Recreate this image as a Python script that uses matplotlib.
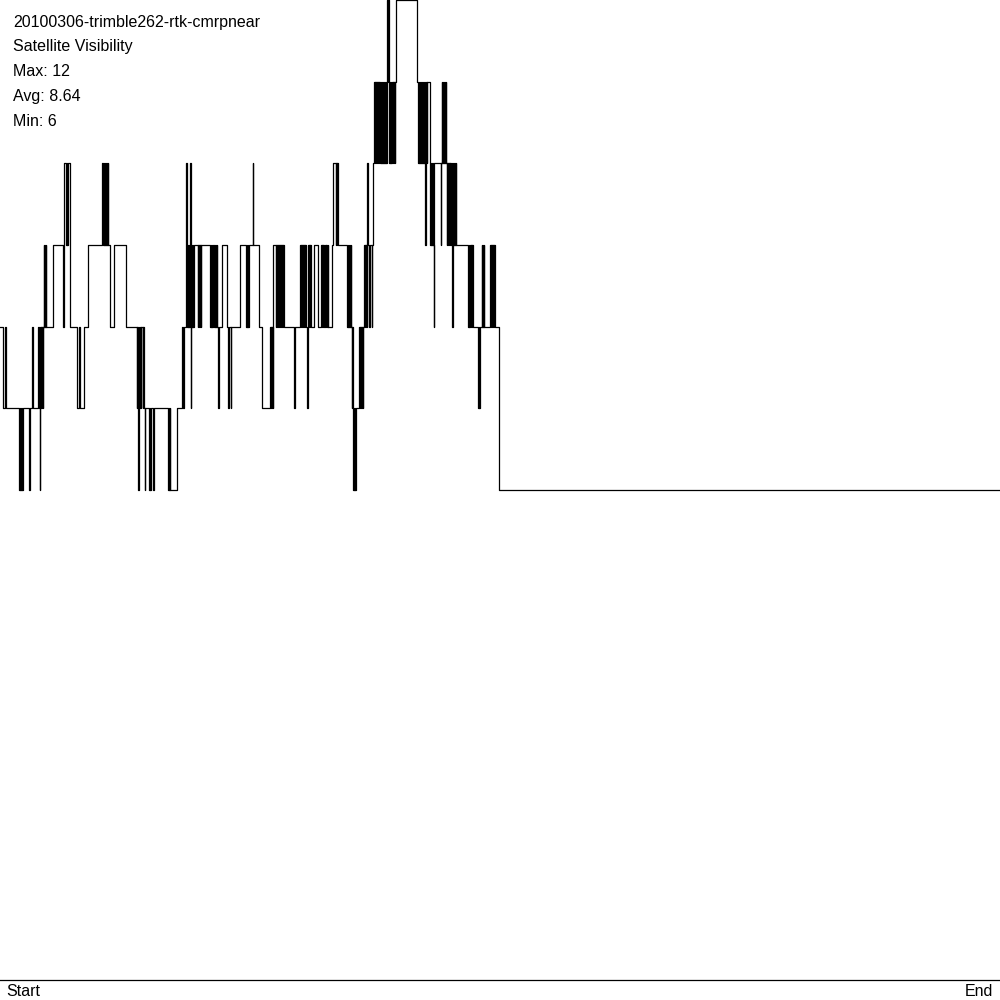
import matplotlib
matplotlib.use("Agg")
import matplotlib.pyplot as plt

# ---- data: (time, satellites visible from that time on) ----
seg_1 = [(0, 8), (2.7, 7), (4.7, 8), (5.5, 7),
         (19.3, 6), (19.8, 7), (20.3, 6), (20.8, 7), (21.3, 6), (21.8, 7), (22.3, 6), (22.8, 7), (23.1, 6), (23.4, 7),
         (29.3, 6), (30.1, 7), (31.8, 8), (32.6, 7),
         (38.0, 8), (38.5, 7), (39.0, 8), (39.4, 7), (39.7, 6), (40.0, 7), (40.4, 8), (40.9, 7), (41.4, 8), (41.9, 7),
         (42.4, 8), (42.9, 7), (43.2, 8),
         (43.5, 9), (44.0, 8), (44.5, 9), (45.0, 8), (45.5, 9), (46.0, 8),
         (53.0, 9), (63.0, 8), (63.8, 10), (66.3, 9), (66.8, 10), (67.3, 9), (67.8, 10), (70.3, 8),
         (77.3, 7), (79.3, 8), (80.0, 7), (84.0, 8), (88.3, 9)]

seg_2 = [(102.3, 10), (103.0, 9), (103.5, 10), (104.3, 9), (104.8, 10), (105.3, 9), (105.8, 10), (106.3, 9),
         (106.8, 10), (107.3, 9), (107.8, 10), (108.3, 9),
         (110.0, 8), (114.3, 9), (126.3, 8),
         (136.7, 7), (137.2, 8), (137.7, 7), (138.2, 6), (138.5, 7), (138.9, 8), (139.4, 7), (139.8, 8),
         (140.6, 7), (141.0, 8), (143.0, 7), (143.4, 8), (144.0, 7), (145.0, 6), (145.3, 7),
         (149.3, 6), (149.8, 7), (150.3, 6), (150.7, 7), (153.3, 6), (153.6, 7),
         (168.3, 6), (168.8, 7), (169.3, 6), (169.8, 7), (170.3, 6), (176.7, 7), (181.7, 8)]

seg_3 = [(183.3, 7), (184.2, 8),
         (185.7, 9), (186.0, 10), (187.0, 9), (187.4, 8), (187.9, 9), (188.4, 8), (188.9, 9), (189.4, 8),
         (190.0, 10), (190.8, 8), (191.0, 7), (191.3, 8), (191.7, 9), (192.2, 8), (192.7, 9), (193.2, 8), (193.6, 9),
         (197.7, 8), (198.2, 9), (198.7, 8), (199.2, 9), (199.7, 8), (200.2, 9), (200.7, 8), (201.2, 9),
         (210.0, 8), (210.5, 9), (211.0, 8), (211.5, 9), (212.0, 8), (212.5, 9),
         (214.3, 8), (214.8, 9), (215.3, 8), (215.8, 9), (216.3, 8), (216.8, 9), (217.3, 8), (218.3, 7), (218.7, 8),
         (221.7, 9), (226.7, 8), (228.3, 7), (228.6, 8), (231.0, 7), (231.3, 8),
         (240.0, 9), (246.0, 8), (246.6, 9), (247.1, 8), (247.6, 9), (248.1, 8), (248.5, 9),
         (252.5, 10), (253.3, 9), (259.3, 8), (261.7, 7)]

seg_4 = [(270.0, 8), (270.5, 7), (271.0, 8), (271.5, 7), (272.0, 8), (272.5, 7), (273.0, 8), (273.3, 9),
         (275.7, 8), (276.2, 9), (276.7, 8), (277.2, 9), (277.7, 8), (278.2, 9), (278.7, 8), (279.2, 9),
         (279.7, 8), (280.2, 9), (280.7, 8), (281.2, 9), (281.7, 8), (282.2, 9), (282.7, 8), (283.2, 9), (283.7, 8),
         (294.3, 7), (295.2, 8),
         (300.0, 9), (300.5, 8), (301.0, 9), (301.5, 8), (302.0, 9), (302.5, 8), (303.0, 9), (303.5, 8),
         (304.0, 9), (304.5, 8), (305.0, 9), (305.5, 8),
         (307.2, 7), (307.9, 8), (308.3, 9), (308.8, 8), (309.3, 9), (309.8, 8), (310.3, 9), (310.8, 8),
         (314.3, 9), (318.3, 8), (321.0, 9), (321.5, 8), (322.0, 9), (322.5, 8), (323.0, 9), (323.5, 8),
         (325.0, 9), (325.5, 8), (326.0, 9), (326.6, 8), (327.7, 9), (328.1, 8), (332.3, 9),
         (333.3, 10), (335.7, 9), (336.2, 10), (336.7, 9), (337.2, 10), (337.7, 9)]

seg_5 = [(347.3, 8), (347.8, 9), (348.3, 8), (348.8, 9), (349.3, 8), (349.8, 9), (350.3, 8), (350.8, 9),
         (351.3, 8), (351.8, 7), (352.3, 8), (352.7, 7), (353.1, 6), (353.5, 7), (354.0, 6), (354.5, 7),
         (355.0, 6), (355.5, 7),
         (359.3, 8), (359.8, 7), (360.3, 8), (360.8, 7), (361.3, 8), (361.8, 7), (362.3, 8), (362.8, 7), (363.3, 8),
         (364.0, 9), (364.5, 8), (365.0, 9), (365.5, 8), (366.0, 9), (366.5, 8), (367.0, 9), (367.3, 10),
         (367.8, 9), (369.3, 8), (369.6, 9), (371.7, 8), (372.0, 9), (372.7, 10), (374.3, 11),
         (374.8, 10), (375.3, 11), (375.8, 10), (376.3, 11), (376.8, 10), (377.3, 11), (377.8, 10), (378.3, 11),
         (378.8, 10), (379.3, 11),
         (380.0, 10), (380.5, 11), (381.0, 10), (381.5, 11), (382.0, 10), (382.5, 11), (383.0, 10), (383.5, 11),
         (384.0, 10), (384.5, 11), (385.0, 10), (385.5, 11), (386.0, 10), (386.5, 11), (387.3, 12), (387.7, 11),
         (388.3, 12), (388.7, 11), (389.3, 10), (389.8, 11), (390.3, 10), (390.8, 11), (391.3, 10), (391.7, 11),
         (392.7, 10), (393.2, 11), (393.7, 10), (394.2, 11), (394.6, 10), (395.0, 11), (395.7, 12), (416.7, 11),
         (418.3, 10), (418.8, 11), (419.3, 10), (419.8, 11), (420.3, 10), (420.8, 11), (421.3, 10), (421.8, 11),
         (422.3, 10), (422.8, 11), (423.3, 10), (423.8, 11), (424.3, 10), (424.8, 11), (425.3, 9), (425.6, 10),
         (426.1, 11), (426.7, 10), (427.3, 11), (430.0, 10)]

seg_6 = [(430.4, 9), (430.9, 10), (431.4, 9), (431.9, 10), (432.4, 9), (432.9, 10), (433.4, 9), (434.0, 8),
         (434.4, 10), (440.7, 9), (441.2, 10), (441.7, 11), (442.2, 10), (442.7, 11), (443.2, 10), (443.7, 11),
         (444.2, 10), (444.7, 11), (445.2, 10), (445.7, 11), (446.2, 10), (446.7, 9), (447.2, 10), (447.7, 9),
         (448.2, 10), (448.7, 9), (449.2, 10), (449.7, 9), (450.2, 10), (450.7, 9), (451.7, 10), (452.3, 8),
         (452.6, 10), (453.0, 9), (453.5, 10), (454.0, 9), (454.5, 10), (455.0, 9), (455.5, 10), (456.0, 9),
         (468.3, 8), (468.8, 9), (469.3, 8), (470.0, 9), (470.5, 8), (471.0, 9), (471.7, 8), (472.3, 9), (472.7, 8),
         (478.3, 7), (478.8, 8), (479.3, 7), (479.8, 8), (481.7, 9), (482.2, 8), (482.7, 9), (483.2, 8),
         (483.6, 9), (484.0, 8),
         (490.0, 9), (490.5, 8), (491.0, 9), (491.5, 8), (492.0, 9), (492.5, 8), (493.0, 9), (493.5, 8),
         (494.0, 9), (494.5, 8), (499.3, 6), (1000, 6)]

title_lines = ["20100306-trimble262-rtk-cmrpnear", "Satellite Visibility",
               "Max: 12", "Avg: 8.64", "Min: 6"]
x_labels = ["Start", "End"]

changes = seg_1 + seg_2 + seg_3 + seg_4 + seg_5 + seg_6
times = [c[0] for c in changes]
sats = [c[1] for c in changes]

plt.rcParams['font.family'] = ['Liberation Sans', 'DejaVu Sans']

fig = plt.figure(figsize=(10, 10), dpi=100)
fig.patch.set_facecolor('white')
ax = fig.add_axes([0, 0.02, 1, 0.98])
ax.step(times, sats, where='post', color='black', lw=0.9, clip_on=False)
ax.set_xlim(0, 1000)
ax.set_ylim(0, 12)
for s in ['top', 'left', 'right']:
    ax.spines[s].set_visible(False)
ax.spines['bottom'].set_linewidth(0.9)
ax.set_xticks([])
ax.set_yticks([])

baselines = [26.5, 51.5, 76.5, 101.5, 126.5]
for txt, yb in zip(title_lines, baselines):
    fig.text(13 / 1000, 1 - yb / 1000, txt, fontsize=11.5, va='baseline', ha='left')

fig.text(6 / 1000, 1 - 996 / 1000, x_labels[0], fontsize=11.5, va='baseline', ha='left')
fig.text(993 / 1000, 1 - 996 / 1000, x_labels[1], fontsize=11.5, va='baseline', ha='right')

fig.savefig('out.png', dpi=100, facecolor='white')
